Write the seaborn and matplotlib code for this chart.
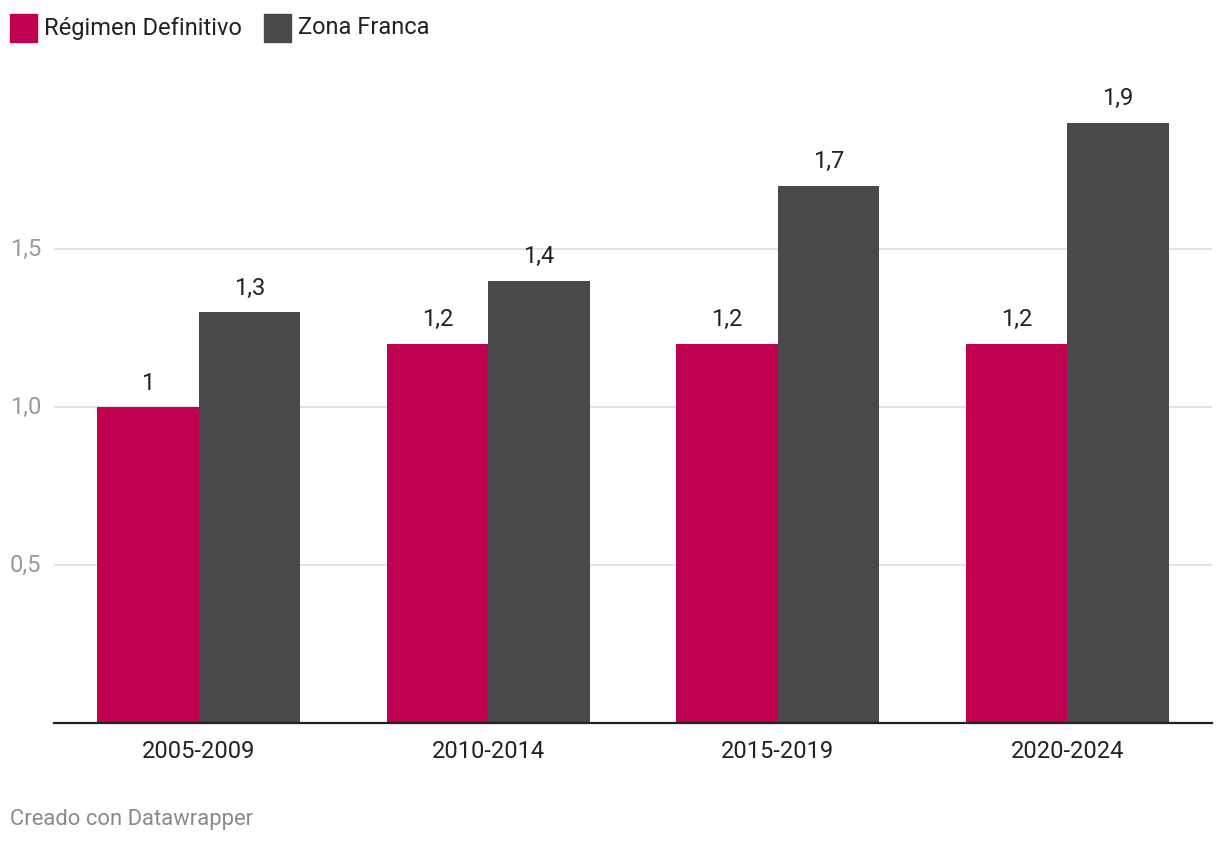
import matplotlib
matplotlib.use("Agg")
import matplotlib.pyplot as plt
import matplotlib.transforms as mtransforms
from matplotlib.patches import Rectangle
import seaborn as sns
import pandas as pd

periods = ["2005-2009", "2010-2014", "2015-2019", "2020-2024"]
regimen_definitivo = [1.0, 1.2, 1.2, 1.2]
zona_franca = [1.3, 1.4, 1.7, 1.9]
series_names = ["Régimen Definitivo", "Zona Franca"]
colors = ["#c20052", "#494949"]
y_ticks = [0.5, 1.0, 1.5]
y_tick_labels = ["0,5", "1,0", "1,5"]

df = pd.DataFrame({
    "period": periods * 2,
    "value": regimen_definitivo + zona_franca,
    "serie": [series_names[0]] * 4 + [series_names[1]] * 4,
})

sns.set_theme(style="white")
plt.rcParams["font.family"] = ["Roboto", "DejaVu Sans"]

fig = plt.figure(figsize=(12.2, 8.44), dpi=100)
W, H = 1220, 844
ax = fig.add_axes([54 / W, 1 - 723 / H, (1212 - 54) / W, (723 - 91) / H])

sns.barplot(data=df, x="period", y="value", hue="serie", palette=colors,
            width=0.7, gap=0, saturation=1, ax=ax, legend=False, errorbar=None,
            linewidth=0, edgecolor="none")

ax.set_xlim(-0.5, 3.5)
ax.set_ylim(0, 2.0)
ax.set_xlabel("")
ax.set_ylabel("")
for s in ["top", "right", "left"]:
    ax.spines[s].set_visible(False)
ax.spines["bottom"].set_color("#222222")
ax.spines["bottom"].set_linewidth(1.6)
ax.spines["bottom"].set_zorder(5)

ax.set_yticks(y_ticks)
ax.set_yticklabels([])
ax.tick_params(axis="y", length=0)
ax.yaxis.grid(True, color="#e3e3e3", linewidth=1.4)
ax.set_axisbelow(True)

trans = mtransforms.blended_transform_factory(fig.transFigure, ax.transData)
for t, lab in zip(y_ticks, y_tick_labels):
    ax.text(10 / W, t, lab, transform=trans, ha="left", va="center",
            fontsize=17, color="#9a9a9a")

ax.tick_params(axis="x", length=0, pad=12, labelsize=17, labelcolor="#222222")

def fmt(v):
    return f"{v:g}".replace(".", ",")

for cont in ax.containers:
    ax.bar_label(cont, labels=[fmt(v) for v in cont.datavalues], padding=9,
                 fontsize=17, color="#222222")

# legend
lx = [10, 264]
for x0, name, c in zip(lx, series_names, colors):
    fig.patches.append(Rectangle((x0 / W, 1 - 42 / H), 27 / W, 28 / H,
                                 transform=fig.transFigure, color=c))
    fig.text((x0 + 34) / W, 1 - 28 / H, name, ha="left", va="center",
             fontsize=17, color="#222222")

fig.text(10 / W, 1 - 820 / H, "Creado con Datawrapper", ha="left", va="center",
         fontsize=15.8, color="#8a8a8a")

fig.savefig("out.png", dpi=100, facecolor="white")
